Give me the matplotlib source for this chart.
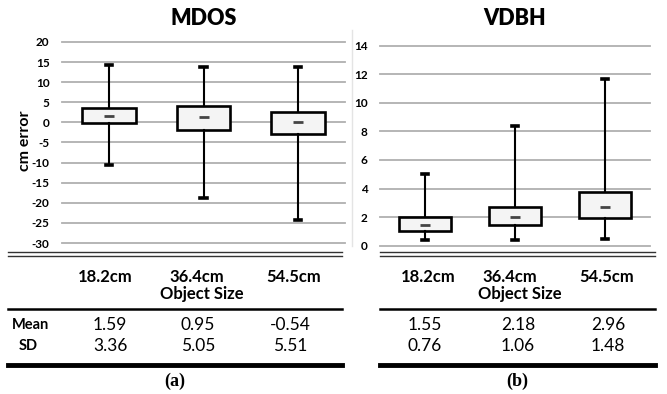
import matplotlib.pyplot as plt
from matplotlib.lines import Line2D

# box summaries read per object size
sizes = ['18.2cm', '36.4cm', '54.5cm']

mdos_q1 = [-0.2, -1.8, -3.0]
mdos_q3 = [3.5, 4.2, 2.6]
mdos_med = [1.5, 1.3, 0.0]
mdos_lo = [-10.5, -18.7, -24.2]
mdos_hi = [14.3, 13.7, 13.7]
mdos_mean = ['1.59', '0.95', '-0.54']
mdos_sd = ['3.36', '5.05', '5.51']

vdbh_q1 = [1.03, 1.43, 1.92]
vdbh_q3 = [2.03, 2.73, 3.74]
vdbh_med = [1.45, 2.03, 2.71]
vdbh_lo = [0.4, 0.4, 0.49]
vdbh_hi = [5.0, 8.38, 11.69]
vdbh_mean = ['1.55', '2.18', '2.96']
vdbh_sd = ['0.76', '1.06', '1.48']

W, H = 667, 394
plt.rcParams['font.family'] = ['Lato', 'DejaVu Sans']

fig = plt.figure(figsize=(W / 100, H / 100), dpi=100)


def px_axes(x0, y0, x1, y1):
    # pixel box (top-left origin) -> figure fraction axes
    return fig.add_axes([x0 / W, 1 - y1 / H, (x1 - x0) / W, (y1 - y0) / H])


def fx(x):
    return x / W


def fy(y):
    return 1 - y / H


def draw_boxes(ax, q1, q3, med, lo, hi, ticks):
    stats = []
    for i in range(3):
        stats.append(dict(q1=q1[i], q3=q3[i], med=med[i], whislo=lo[i], whishi=hi[i], fliers=[]))
    ax.set_xlim(0.5, 3.5)
    ax.set_ylim(ticks[0], ticks[-1])
    for t in ticks:
        ax.axhline(t, color='#b0b0b0', lw=1.3, clip_on=False, zorder=0)
    ax.bxp(stats, positions=[1, 2, 3], widths=0.57, capwidths=0.07, patch_artist=True,
           boxprops=dict(facecolor='#f4f4f4', edgecolor='black', linewidth=1.9),
           whiskerprops=dict(color='black', linewidth=1.5),
           capprops=dict(color='black', linewidth=2.6),
           medianprops=dict(linewidth=0), zorder=2)
    ax.plot([1, 2, 3], med, ls='none', marker='_', markersize=7, mew=2, color='#444444', zorder=3)
    ax.set_yticks(ticks)
    ax.set_yticklabels([str(t) for t in ticks], fontsize=8.5, fontweight='bold')
    ax.tick_params(length=0, pad=9)
    ax.set_xticks([])
    for s in ax.spines.values():
        s.set_visible(False)


ax1 = px_axes(62, 42, 345, 243)
draw_boxes(ax1, mdos_q1, mdos_q3, mdos_med, mdos_lo, mdos_hi, list(range(-30, 25, 5)))
ax1.set_ylabel('cm error', fontsize=11.5, fontweight='bold')
ax1.yaxis.set_label_coords(-0.105, 0.51)
ax1.set_title('MDOS', fontsize=15.5, fontweight='heavy', pad=12)

ax2 = px_axes(380, 45.7, 650, 245.7)
draw_boxes(ax2, vdbh_q1, vdbh_q3, vdbh_med, vdbh_lo, vdbh_hi, list(range(0, 16, 2)))
ax2.set_title('VDBH', fontsize=15.5, fontweight='heavy', pad=15)
fig.add_artist(Line2D([fx(352), fx(352)], [fy(30), fy(246)], color='#e4e4e4', lw=1))


def hline(x0, x1, y, lw, color='black'):
    fig.add_artist(Line2D([fx(x0), fx(x1)], [fy(y), fy(y)], color=color, lw=lw))


# summary tables under each plot
tables = [
    (8, 342, [105, 197, 294], [110, 198, 290], mdos_mean, mdos_sd, '(a)'),
    (380, 655, [428, 510, 607], [425, 518, 608], vdbh_mean, vdbh_sd, '(b)'),
]
for x0, x1, cols, vcols, means, sds, tag in tables:
    hline(x0, x1, 252.5, 1.0, '#333333')
    hline(x0, x1, 255.5, 1.0, '#333333')
    for c, s in zip(cols, sizes):
        fig.text(fx(c), fy(277), s, fontsize=12, fontweight='bold', ha='center', va='center')
    fig.text(fx((cols[0] + cols[2]) / 2 + 2), fy(294), 'Object Size', fontsize=12, fontweight='bold',
             ha='center', va='center')
    hline(x0, x1, 309, 1.8)
    for c, m, s in zip(vcols, means, sds):
        fig.text(fx(c), fy(325), m, fontsize=12.5, ha='center', va='center')
        fig.text(fx(c), fy(346), s, fontsize=12.5, ha='center', va='center')
    hline(x0, x1, 365, 3.5)
    fig.text(fx((x0 + x1) / 2), fy(381), tag, fontsize=13, fontweight='bold',
             family=['Liberation Serif', 'DejaVu Serif'], ha='center', va='center')

fig.text(fx(30), fy(325), 'Mean', fontsize=10.5, fontweight='bold', ha='center', va='center')
fig.text(fx(28), fy(346), 'SD', fontsize=10.5, fontweight='bold', ha='center', va='center')

fig.savefig('out.png', dpi=100)
